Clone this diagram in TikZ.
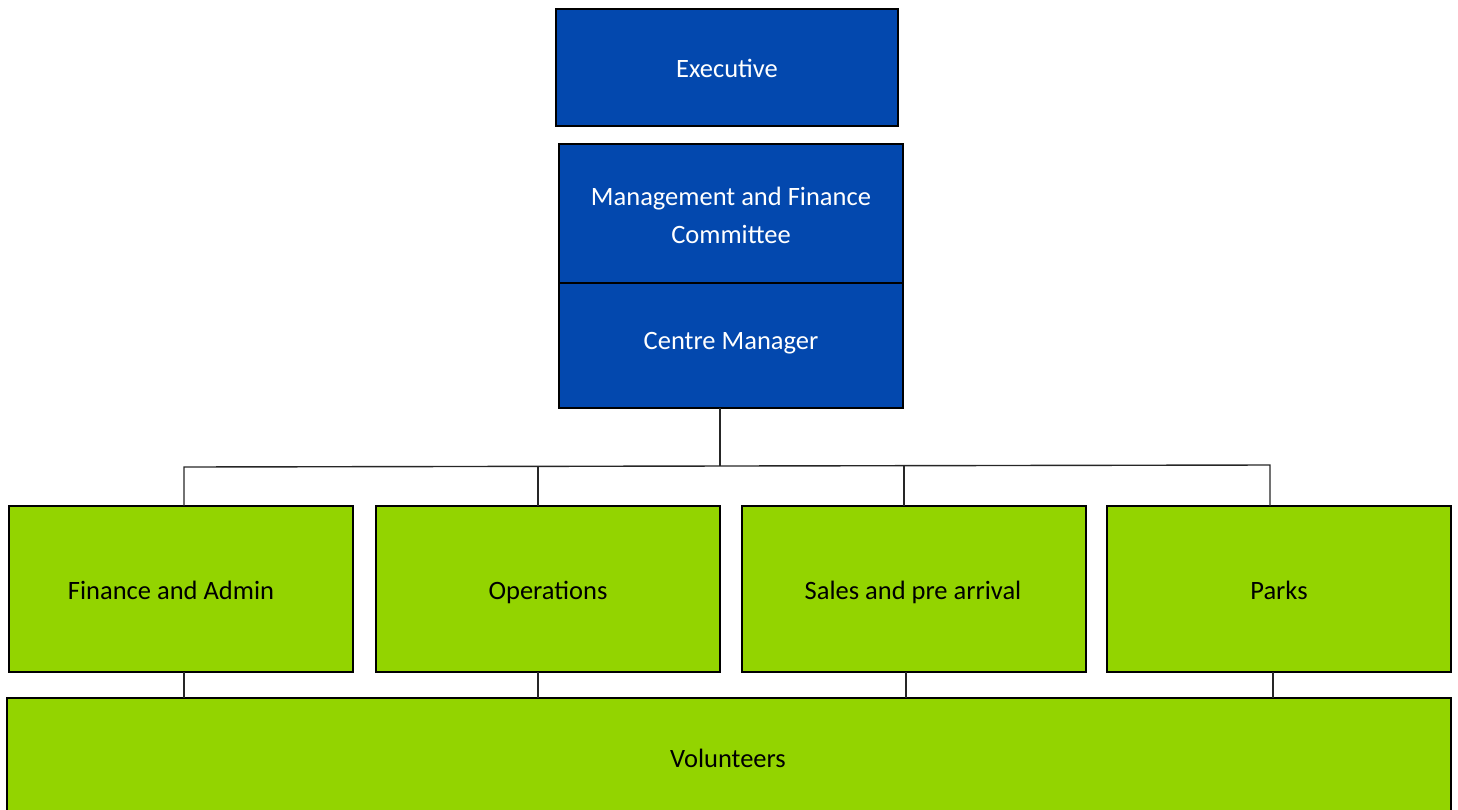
\documentclass[tikz,border=0pt]{standalone}
\usepackage{fontspec}
\setmainfont{Carlito}
\definecolor{orgblue}{HTML}{0348AE}
\definecolor{orggreen}{HTML}{93D400}
\begin{document}
\begin{tikzpicture}[x=1pt,y=-1pt,
  box/.style={draw=black,line width=2.8pt,inner sep=0pt,outer sep=0pt,rectangle},
  bluebox/.style={box,fill=orgblue},
  greenbox/.style={box,fill=orggreen},
  lbl/.style={font=\fontsize{26.5}{38}\selectfont,align=center,inner sep=0pt},
  blbl/.style={lbl,anchor=base},
  conn/.style={draw=black!85,line width=1.4pt}]
\useasboundingbox (0,0) rectangle (1458,809);
\clip (0,0) rectangle (1458,809);
% blue boxes
\node[bluebox,minimum width=342pt,minimum height=117pt] (exec) at (727,67.5) {};
\node[blbl,text=white] (exect) at (727,77.5) {Executive};
\node[bluebox,minimum width=344pt,minimum height=139pt] (mfc) at (731,213.5) {};
\node[lbl,text=white] (mfct) at (731,215) {Management and Finance\\Committee};
\node[bluebox,minimum width=344pt,minimum height=125pt] (cm) at (731,345.5) {};
\node[blbl,text=white] (cmt) at (731,349.5) {Centre Manager};
% green boxes
\node[greenbox,minimum width=344pt,minimum height=166pt] (fa) at (181,589) {};
\node[greenbox,minimum width=344pt,minimum height=166pt] (op) at (548,589) {};
\node[greenbox,minimum width=344pt,minimum height=166pt] (sp) at (914,589) {};
\node[greenbox,minimum width=344pt,minimum height=166pt] (pk) at (1279,589) {};
\node[blbl] (fat) at (171,599.5) {Finance and Admin};
\node[blbl] (opt) at (548,599.5) {Operations};
\node[blbl] (spt) at (913,599.5) {Sales and pre arrival};
\node[blbl] (pkt) at (1279,599.5) {Parks};
% volunteers
\node[greenbox,minimum width=1444pt,minimum height=140pt] (vol) at (729,768) {};
\node[blbl] (volt) at (728,767.5) {Volunteers};
% connectors
\coordinate (j) at (720,466);
\draw[conn] (cm.south -| j) -- (j);
\draw[conn] (fa.north -| 184,0) -- (184,467) -- (1270,465) -- (pk.north -| 1270,0);
\draw[conn] (op.north -| 538,0) -- (538,466.5);
\draw[conn] (sp.north -| 904,0) -- (904,465.5);
\draw[conn] (fa.south -| 184,0) -- (vol.north -| 184,0);
\draw[conn] (op.south -| 538,0) -- (vol.north -| 538,0);
\draw[conn] (sp.south -| 906,0) -- (vol.north -| 906,0);
\draw[conn] (pk.south -| 1273,0) -- (vol.north -| 1273,0);
\end{tikzpicture}
\end{document}
